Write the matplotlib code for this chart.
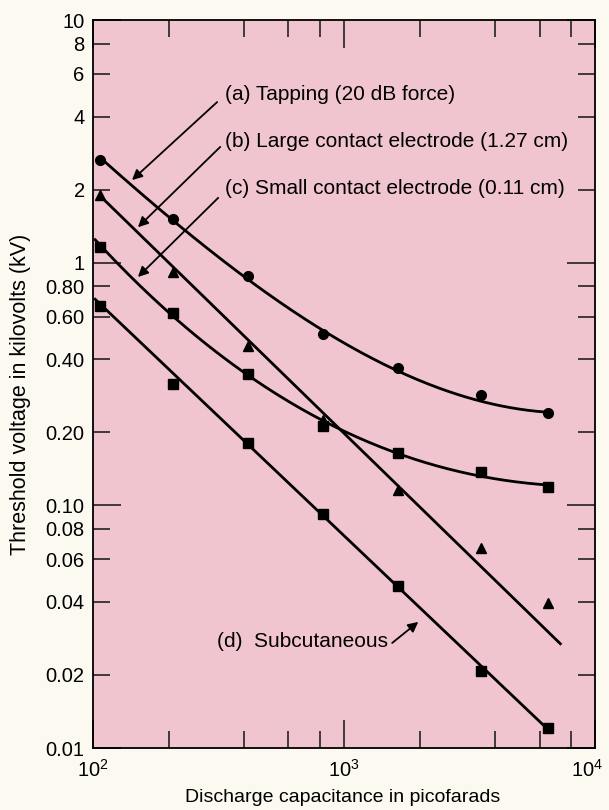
import numpy as np
import matplotlib
matplotlib.use('Agg')
import matplotlib.pyplot as plt
import matplotlib.transforms as mtransforms
from matplotlib.ticker import FixedLocator, FixedFormatter, NullFormatter

plt.rcParams['font.family'] = ['Liberation Sans', 'DejaVu Sans']
plt.rcParams['mathtext.fontset'] = 'custom'
plt.rcParams['mathtext.rm'] = 'Liberation Sans'
plt.rcParams['mathtext.default'] = 'regular'

# discharge capacitance (pF)
cap = [107, 208, 414, 825, 1640, 3500, 6500]

# threshold voltage (kV)
tapping = [2.65, 1.51, 0.88, 0.508, 0.368, 0.285, 0.240]
large_contact = [1.90, 0.916, 0.454, 0.225, 0.116, 0.0668, 0.0396]
small_contact = [1.16, 0.621, 0.348, 0.212, 0.164, 0.137, 0.119]
subcutaneous = [0.663, 0.316, 0.181, 0.0922, 0.0466, 0.0208, 0.0121]

# straight line drawn for (b), end points
large_line_x = [107, 7250]
large_line_y = [1.88, 0.0269]
subcut_fit_mask = [True, False, True, True, True, True, True]
tapping_weights = [1, 1.5, 1.5, 2, 1, 1, 2]

y_minor_vals = [8, 6, 4, 2, 0.8, 0.6, 0.4, 0.2, 0.08, 0.06, 0.04, 0.02]
y_minor_labels = ['8', '6', '4', '2', '0.80', '0.60', '0.40', '0.20',
                  '0.08', '0.06', '0.04', '0.02']
y_major_vals = [10, 1, 0.1, 0.01]
y_major_labels = ['10', '1', '0.10', '0.01']
x_major_vals = [1e2, 1e3, 1e4]
x_major_labels = [r'$10^2$', r'$10^3$', r'$10^4$']
x_minor_vals = [200, 400, 600, 800, 2000, 4000, 6000, 8000]

PINK = '#f1c5d0'
CREAM = '#fbf9f0'

fig = plt.figure(figsize=(6.09, 8.10), dpi=100, facecolor=CREAM)
ax = fig.add_axes([0.1527, 0.0765, 0.825, 0.8988])
ax.set_facecolor(PINK)
ax.set_xscale('log')
ax.set_yscale('log')
ax.set_xlim(1e2, 1e4)
ax.set_ylim(0.01, 10)

lx = np.log10(cap)


def smooth(vals, deg, x0, x1, mask=None, w=None):
    # fitted curve in log-log space
    m = np.ones(len(vals), bool) if mask is None else np.array(mask)
    ww = None if w is None else np.array(w, float)[m]
    p = np.polyfit(lx[m], np.log10(vals)[m], deg, w=ww)
    xs = np.linspace(np.log10(x0), np.log10(x1), 200)
    return 10 ** xs, 10 ** np.polyval(p, xs)


lw = 2.0
x, y = smooth(tapping, 3, 107, 6500, w=tapping_weights)
ax.plot(x, y, color='black', lw=lw)
ax.plot(large_line_x, large_line_y, color='black', lw=lw)
x, y = smooth(small_contact, 3, 102, 6500)
ax.plot(x, y, color='black', lw=lw)
x, y = smooth(subcutaneous, 1, 102, 6500, subcut_fit_mask)
ax.plot(x, y, color='black', lw=lw)

ax.plot(cap, tapping, 'o', color='black', ms=7, clip_on=False)
ax.plot(cap, large_contact, '^', color='black', ms=7, clip_on=False)
ax.plot(cap, small_contact, 's', color='black', ms=6.5, clip_on=False)
ax.plot(cap, subcutaneous, 's', color='black', ms=6.5, clip_on=False)

# annotations
fs = 15
ax.text(336, 4.95, '(a) Tapping (20 dB force)', fontsize=fs, va='center', ha='left')
ax.text(336, 3.17, '(b) Large contact electrode (1.27 cm)', fontsize=fs, va='center', ha='left')
ax.text(336, 2.03, '(c) Small contact electrode (0.11 cm)', fontsize=fs, va='center', ha='left')
ax.text(312, 0.0274, '(d)  Subcutaneous', fontsize=fs, va='center', ha='left')

arrow = dict(arrowstyle='-|>', color='black', lw=1.3, mutation_scale=15, shrinkA=0, shrinkB=0)
ax.annotate('', xy=(143, 2.19), xytext=(312, 4.59), arrowprops=arrow)
ax.annotate('', xy=(151, 1.40), xytext=(321, 3.0), arrowprops=arrow)
ax.annotate('', xy=(151, 0.873), xytext=(315, 1.85), arrowprops=arrow)
ax.annotate('', xy=(1972, 0.0331), xytext=(1552, 0.0271), arrowprops=arrow)

# ticks
ax.xaxis.set_major_locator(FixedLocator(x_major_vals))
ax.xaxis.set_major_formatter(FixedFormatter(x_major_labels))
ax.xaxis.set_minor_locator(FixedLocator(x_minor_vals))
ax.xaxis.set_minor_formatter(NullFormatter())
ax.yaxis.set_major_locator(FixedLocator(y_major_vals))
ax.yaxis.set_major_formatter(FixedFormatter(y_major_labels))
ax.yaxis.set_minor_locator(FixedLocator(y_minor_vals))
ax.yaxis.set_minor_formatter(FixedFormatter(y_minor_labels))

ax.tick_params(which='both', direction='in', top=True, right=True,
               width=1.2, color='#222222', labelsize=14.5)
ax.tick_params(which='major', length=20)
ax.tick_params(which='minor', length=12)
ax.tick_params(axis='y', which='both', pad=6)
ax.tick_params(axis='x', which='both', pad=8)

# nudge the 10^4 label inward so it stays on the page
last = ax.get_xticklabels()[-1]
last.set_transform(last.get_transform() +
                   mtransforms.ScaledTranslation(-8 / 100, 0, fig.dpi_scale_trans))

for s in ax.spines.values():
    s.set_linewidth(1.3)

fig.text(0.033, 1 - 394 / 810, 'Threshold voltage in kilovolts (kV)', rotation=90,
         fontsize=15.5, ha='center', va='center')
fig.text(343 / 609, 1 - 797 / 810, 'Discharge capacitance in picofarads',
         fontsize=14, ha='center', va='center')

fig.savefig('out.png', dpi=100, facecolor=CREAM)
